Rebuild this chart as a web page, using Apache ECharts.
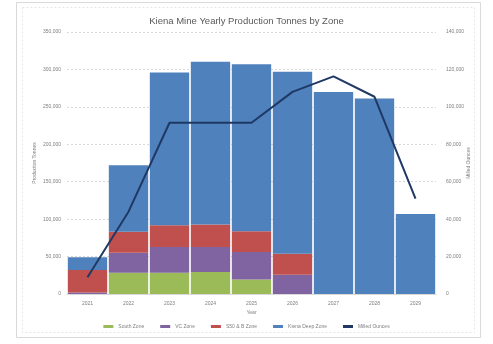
<!DOCTYPE html>
<html><head><meta charset="utf-8">
<script src="https://cdn.jsdelivr.net/npm/echarts@6/dist/echarts.min.js"></script>
<style>html,body{margin:0;padding:0;background:#fff}#c{width:493px;height:344px}</style>
</head><body><div id="c"></div>
<script>
const years = ['2021','2022','2023','2024','2025','2026','2027','2028','2029'];
const southZone = [0, 28500, 28500, 29500, 19500, 0, 0, 0, 0];
const vcZone = [2000, 26500, 34300, 33400, 36500, 25800, 0, 0, 0];
const s50BZone = [30000, 28000, 29000, 29800, 27700, 28000, 0, 0, 0];
const kienaDeepZone = [17000, 89000, 204000, 217400, 223200, 243200, 270000, 261000, 107000];
const milledOunces = [9000, 44000, 91500, 91500, 91500, 108000, 116300, 105400, 51000];
const leftTicks = [0, 50000, 350000];
const rightTicks = [0, 20000, 140000];

const chart = echarts.init(document.getElementById('c'));
const fmt = v => v.toLocaleString('en-US');
const axisLbl = {fontSize: 5, color: '#7f7f7f', fontFamily: 'Liberation Sans'};
const barBase = {type: 'bar', stack: 'z', barCategoryGap: '4%', yAxisIndex: 0};
chart.setOption({
  animation: false,
  title: {text: 'Kiena Mine Yearly Production Tonnes by Zone', left: 'center', top: 11,
    textStyle: {fontSize: 9.5, fontWeight: 'normal', color: '#595959', fontFamily: 'Liberation Sans'}},
  graphic: [
    {type: 'rect', shape: {x: 16.5, y: 2.5, width: 464, height: 335}, style: {fill: 'none', stroke: '#d9d9d9', lineWidth: 1}},
    {type: 'rect', shape: {x: 22.5, y: 7.5, width: 452, height: 325}, style: {fill: 'none', stroke: '#e6e6e6', lineWidth: 1, lineDash: [2, 2]}}
  ],
  legend: {bottom: 10, left: 'center', itemWidth: 10, itemHeight: 3, itemGap: 16,
    textStyle: {fontSize: 5, color: '#7f7f7f', fontFamily: 'Liberation Sans'},
    data: [
      {name: 'South Zone', icon: 'rect'}, {name: 'VC Zone', icon: 'rect'},
      {name: 'S50 & B Zone', icon: 'rect'}, {name: 'Kiena Deep Zone', icon: 'rect'},
      {name: 'Milled Ounces', icon: 'rect'}]},
  grid: {left: 67, right: 57, top: 32, bottom: 50},
  xAxis: {type: 'category', data: years, name: 'Year', nameLocation: 'middle', nameGap: 16,
    nameMoveOverlap: false,
    nameTextStyle: axisLbl, axisLabel: Object.assign({margin: 7}, axisLbl),
    axisTick: {show: false}, axisLine: {lineStyle: {color: '#d9d9d9'}}},
  yAxis: [
    {type: 'value', min: leftTicks[0], max: leftTicks[2], interval: leftTicks[1],
      name: 'Production Tonnes', nameLocation: 'middle', nameGap: 30, nameMoveOverlap: false,
      nameTextStyle: axisLbl,
      axisLabel: Object.assign({formatter: fmt, margin: 6}, axisLbl),
      splitLine: {lineStyle: {color: '#d9d9d9', type: [2, 2]}}},
    {type: 'value', min: rightTicks[0], max: rightTicks[2], interval: rightTicks[1],
      name: 'Milled Ounces', nameLocation: 'middle', nameGap: 30, nameMoveOverlap: false,
      nameTextStyle: axisLbl,
      axisLabel: Object.assign({formatter: fmt, margin: 10}, axisLbl),
      splitLine: {show: false}}
  ],
  series: [
    Object.assign({name: 'South Zone', data: southZone, itemStyle: {color: '#9bbb59'}}, barBase),
    Object.assign({name: 'VC Zone', data: vcZone, itemStyle: {color: '#8064a2'}}, barBase),
    Object.assign({name: 'S50 & B Zone', data: s50BZone, itemStyle: {color: '#c0504d'}}, barBase),
    Object.assign({name: 'Kiena Deep Zone', data: kienaDeepZone, itemStyle: {color: '#4f81bd'}}, barBase),
    {name: 'Milled Ounces', type: 'line', yAxisIndex: 1, data: milledOunces, symbol: 'none',
      lineStyle: {color: '#1f3864', width: 2}, itemStyle: {color: '#1f3864'}}
  ]
});
</script></body></html>
